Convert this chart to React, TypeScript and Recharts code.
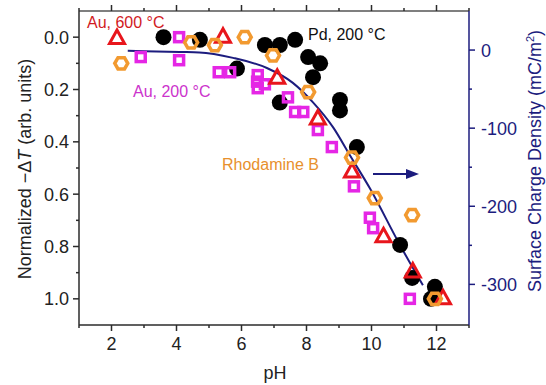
import React from 'react';
import { ComposedChart, Scatter, Line, XAxis, YAxis } from 'recharts';

// pH / normalized -dT readings for each catalyst
const pdPH = [3.6, 4.72, 5.86, 6.72, 7.18, 7.65, 8.05, 8.42, 8.2, 7.18, 9.03, 9.03, 9.55, 10.88, 11.25, 11.95, 11.83];
const pdSignal = [0.0, 0.01, 0.12, 0.03, 0.03, 0.01, 0.076, 0.1, 0.153, 0.25, 0.24, 0.28, 0.42, 0.794, 0.92, 0.954, 1.0];

const au600PH = [2.17, 5.43, 7.1, 8.35, 9.4, 10.37, 11.27, 12.2];
const au600Signal = [0.005, 0.0, 0.157, 0.313, 0.515, 0.763, 0.897, 1.0];

const au200PH = [2.9, 4.08, 4.08, 5.3, 5.65, 6.5, 6.48, 6.5, 6.72, 7.43, 7.65, 7.9, 8.35, 8.78, 9.46, 9.95, 10.05, 11.18];
const au200Signal = [0.076, 0.0, 0.088, 0.134, 0.134, 0.145, 0.17, 0.195, 0.18, 0.23, 0.286, 0.286, 0.355, 0.42, 0.57, 0.69, 0.73, 1.0];

const rhoPH = [2.3, 4.45, 5.18, 6.1, 6.97, 8.05, 9.4, 10.1, 11.25, 11.95];
const rhoSignal = [0.1, 0.02, 0.03, 0.0, 0.07, 0.21, 0.46, 0.615, 0.68, 1.0];

// surface charge density curve (right axis)
const chargePH = [2.5, 4.1, 4.7, 5.74, 6.78, 7.58, 8.2, 8.82, 9.34, 9.95, 10.88, 11.58];
const chargeDensity = [-1, -2.5, -3, -10, -23, -42, -67, -99, -135, -177, -250, -301];

const xTicks = [1, 2, 3, 4, 5, 6, 7, 8, 9, 10, 11, 12, 13];
const leftTicks = [0, 0.1, 0.2, 0.3, 0.4, 0.5, 0.6, 0.7, 0.8, 0.9, 1.0];
const rightTicks = [0, -50, -100, -150, -200, -250, -300];

const zip = (xs: number[], ys: number[], key: string) => xs.map((x, i) => ({ x, [key]: ys[i] }));

const pdData = zip(pdPH, pdSignal, 'v');
const au600Data = zip(au600PH, au600Signal, 'v');
const au200Data = zip(au200PH, au200Signal, 'v');
const rhoData = zip(rhoPH, rhoSignal, 'v');
const chargeData = zip(chargePH, chargeDensity, 's');

const FONT = '"Liberation Sans", Arial, sans-serif';
const AXIS = '#2b2b2b';
const NAVY = '#1c1c7e';

const BottomTick = (props: any) => {
  const { x, y, payload } = props;
  const major = payload.value % 2 === 0;
  return (
    <g>
      <line x1={x} x2={x} y1={y} y2={y + (major ? 6 : 3)} stroke={AXIS} strokeWidth={1.5} />
      {major && (
        <text x={x} y={y + 25} textAnchor="middle" fontSize={18} fontFamily={FONT} fill="#222">
          {payload.value}
        </text>
      )}
    </g>
  );
};

const TopTick = (props: any) => {
  const { x, y, payload } = props;
  const major = payload.value % 2 === 0;
  return <line x1={x} x2={x} y1={y} y2={y - (major ? 6 : 3)} stroke={AXIS} strokeWidth={1.5} />;
};

const LeftTick = (props: any) => {
  const { x, y, payload } = props;
  const major = Math.round(payload.value * 10) % 2 === 0;
  return (
    <g>
      <line x1={x} x2={x - (major ? 6 : 3)} y1={y} y2={y} stroke={AXIS} strokeWidth={1.5} />
      {major && (
        <text x={x - 10} y={y} dy="0.36em" textAnchor="end" fontSize={18} fontFamily={FONT} fill="#222">
          {payload.value.toFixed(1)}
        </text>
      )}
    </g>
  );
};

const RightTick = (props: any) => {
  const { x, y, payload } = props;
  const major = payload.value % 100 === 0;
  return (
    <g>
      <line x1={x} x2={x + (major ? 6 : 3)} y1={y} y2={y} stroke={NAVY} strokeWidth={1.5} />
      {major && (
        <text x={x + 12} y={y} dy="0.36em" textAnchor="start" fontSize={18} fontFamily={FONT} fill={NAVY}>
          {payload.value}
        </text>
      )}
    </g>
  );
};

const Dot = (props: any) => <circle cx={props.cx} cy={props.cy} r={8} fill="#000" />;

const Tri = (props: any) => {
  const { cx, cy } = props;
  return (
    <polygon
      points={`${cx},${cy - 8.5} ${cx - 7.5},${cy + 5} ${cx + 7.5},${cy + 5}`}
      fill="none"
      stroke="#e8161c"
      strokeWidth={3}
      strokeLinejoin="miter"
    />
  );
};

const Sq = (props: any) => {
  const { cx, cy } = props;
  return <rect x={cx - 4.5} y={cy - 4.5} width={9} height={9} fill="none" stroke="#e526e5" strokeWidth={3.5} />;
};

const Hex = (props: any) => {
  const { cx, cy } = props;
  const r = 6.5;
  const pts = [0, 1, 2, 3, 4, 5]
    .map((k) => {
      const a = (Math.PI / 3) * k;
      return `${cx + r * Math.cos(a)},${cy + r * Math.sin(a)}`;
    })
    .join(' ');
  return <polygon points={pts} fill="none" stroke="#f29a30" strokeWidth={3.5} />;
};

const App = () => {
  return (
    <div style={{ position: 'absolute', left: 0, top: 0, width: 546, height: 385 }}>
      <ComposedChart width={546} height={385} margin={{ top: 1, right: 0, bottom: 0, left: 0 }}>
        <XAxis
          dataKey="x"
          type="number"
          domain={[1, 13]}
          ticks={xTicks}
          allowDataOverflow
          height={60}
          tickSize={0}
          tickMargin={0}
          tickLine={false}
          axisLine={{ stroke: AXIS, strokeWidth: 1.5 }}
          tick={<BottomTick />}
          interval={0}
        />
        <XAxis
          xAxisId="top"
          orientation="top"
          dataKey="x"
          type="number"
          domain={[1, 13]}
          ticks={xTicks}
          allowDataOverflow
          height={10}
          tickSize={0}
          tickMargin={0}
          tickLine={false}
          axisLine={{ stroke: '#555', strokeWidth: 1.5 }}
          tick={<TopTick />}
          interval={0}
        />
        <YAxis
          yAxisId="l"
          type="number"
          domain={[-0.1, 1.1]}
          reversed
          allowDataOverflow
          ticks={leftTicks}
          width={79}
          tickSize={0}
          tickMargin={0}
          tickLine={false}
          axisLine={{ stroke: AXIS, strokeWidth: 1.5 }}
          tick={<LeftTick />}
          interval={0}
        />
        <YAxis
          yAxisId="r"
          orientation="right"
          type="number"
          domain={[-352, 50]}
          allowDataOverflow
          ticks={rightTicks}
          width={77}
          tickSize={0}
          tickMargin={0}
          tickLine={false}
          axisLine={{ stroke: NAVY, strokeWidth: 1.5 }}
          tick={<RightTick />}
          interval={0}
        />
        <Scatter yAxisId="l" data={pdData} dataKey="v" shape={<Dot />} isAnimationActive={false} />
        <Scatter yAxisId="l" data={au200Data} dataKey="v" shape={<Sq />} isAnimationActive={false} />
        <Scatter yAxisId="l" data={au600Data} dataKey="v" shape={<Tri />} isAnimationActive={false} />
        <Scatter yAxisId="l" data={rhoData} dataKey="v" shape={<Hex />} isAnimationActive={false} />
        <Line
          yAxisId="r"
          data={chargeData}
          dataKey="s"
          type="monotone"
          stroke={NAVY}
          strokeWidth={2}
          dot={false}
          isAnimationActive={false}
        />
      </ComposedChart>
      <svg
        width={546}
        height={385}
        style={{ position: 'absolute', left: 0, top: 0, pointerEvents: 'none' }}
        fontFamily={FONT}
      >
        <text x={87} y={28} fontSize={16} fill="#d11a1f">Au, 600 °C</text>
        <text x={133} y={97} fontSize={16} fill="#cc33cc">Au, 200 °C</text>
        <text x={308} y={40} fontSize={16} fill="#111">Pd, 200 °C</text>
        <text x={222} y={170} fontSize={16} fill="#e8902c">Rhodamine B</text>
        <line x1={373} x2={408} y1={174} y2={174} stroke={NAVY} strokeWidth={2} />
        <polygon points="419,174 406,169 406,179" fill={NAVY} />
        <text x={275} y={379} textAnchor="middle" fontSize={18} fill="#222">pH</text>
        <text x={31} y={169} transform="rotate(-90 31 169)" textAnchor="middle" fontSize={18} fill="#222">
          Normalized −Δ<tspan fontStyle="italic">T</tspan> (arb. units)
        </text>
        <text x={541} y={161} transform="rotate(-90 541 161)" textAnchor="middle" fontSize={18} fill={NAVY}>
          Surface Charge Density (mC/m<tspan fontSize={11} dy={-7}>2</tspan>
          <tspan dy={7}>)</tspan>
        </text>
      </svg>
    </div>
  );
};

export default App;
